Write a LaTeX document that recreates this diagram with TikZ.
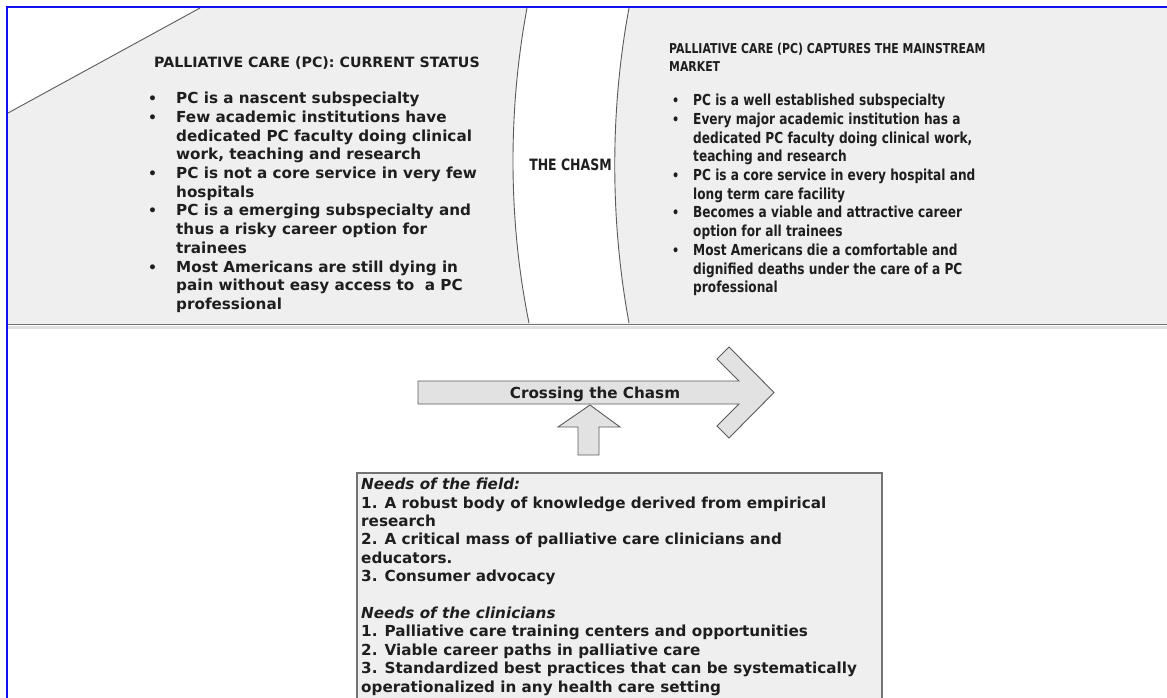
\documentclass[tikz,border=0pt]{standalone}
\usepackage{fontspec}
\setmainfont{DejaVu Sans}
\newfontfamily\condfont{DejaVu Sans}[FakeStretch=0.8]
\definecolor{bandfill}{HTML}{EFEFEF}
\definecolor{arrowfill}{HTML}{E2E2E2}
\definecolor{edgegray}{HTML}{5A5A5A}
\definecolor{framebl}{HTML}{1010F0}
\definecolor{txt}{HTML}{1E1E1E}
\newcommand{\lbul}{\llap{\makebox[28pt][l]{\raisebox{0pt}{\fontsize{14}{14}\selectfont\bfseries •}}}}
\newcommand{\rbul}{\llap{\makebox[21pt][l]{\raisebox{0pt}{\fontsize{14}{14}\selectfont\bfseries •}}}}
\tikzset{
  lefttext/.style={inner sep=0pt, align=left, text=txt, font=\fontsize{15.2}{18.7}\selectfont\bfseries},
  righttext/.style={inner sep=0pt, align=left, text=txt, font=\condfont\fontsize{15.2}{18.7}\selectfont\bfseries},
  boxtext/.style={inner sep=0pt, align=left, text=txt, font=\fontsize{15.2}{18.4}\selectfont\bfseries},
  bigarrow/.style={fill=arrowfill, draw=edgegray, line width=0.9pt, line join=miter},
  edgeline/.style={draw=edgegray, line width=0.9pt}
}
\begin{document}
\begin{tikzpicture}[x=1pt,y=-1pt]
\useasboundingbox (0,0) rectangle (1167,698);
\clip (0,0) rectangle (1167,698);
% top band
\fill[bandfill] (8,8) rectangle (1167,324);
\fill[white] (8,8) -- (200,8) -- (8,113) -- cycle;
\draw[edgeline] (200,8) -- (8,113);
% chasm
\fill[white] (527,8) .. controls (508,110) and (508,220) .. (529,323) -- (629,323) .. controls (610,220) and (610,110) .. (629,8) -- cycle;
\draw[edgeline] (527,8) .. controls (508,110) and (508,220) .. (529,323);
\draw[edgeline] (629,8) .. controls (610,110) and (610,220) .. (629,323);
% band bottom line
\draw[black!12, line width=3pt] (8,327.5) -- (1167,327.5);
\draw[black!55, line width=1.8pt] (8,324.5) -- (1167,324.5);
% frame
\draw[framebl, line width=2.2pt] (7,698) -- (7,7) -- (1167,7);

% left text
\node[lefttext, font=\fontsize{14.2}{16}\selectfont\bfseries, anchor=base west] (ltitle) at (154,68) {PALLIATIVE CARE (PC): CURRENT STATUS};
\node[lefttext, anchor=north west] (lbul) at (176,92) {%
\lbul PC is a nascent subspecialty\\
\lbul Few academic institutions have\\
dedicated PC faculty doing clinical\\
work, teaching and research\\
\lbul PC is not a core service in very few\\
hospitals\\
\lbul PC is a emerging subspecialty and\\
thus a risky career option for\\
trainees\\
\lbul Most Americans are still dying in\\
pain without easy access to\ \ a PC\\
professional};

% chasm label
\node[righttext, font=\condfont\fontsize{15.6}{18}\selectfont\bfseries, anchor=base] (chasm) at (570.5,170.5) {THE CHASM};

% right text
\node[righttext, font=\condfont\fontsize{13.6}{18}\selectfont\bfseries, anchor=north west] (rtitle) at (669,42.7) {PALLIATIVE CARE (PC) CAPTURES THE MAINSTREAM\\MARKET};
\node[righttext, anchor=north west] (rbul) at (693,94) {%
\rbul PC is a well established subspecialty\\
\rbul Every major academic institution has a\\
dedicated PC faculty doing clinical work,\\
teaching and research\\
\rbul PC is a core service in every hospital and\\
long term care facility\\
\rbul Becomes a viable and attractive career\\
option for all trainees\\
\rbul Most Americans die a comfortable and\\
dignified deaths under the care of a PC\\
professional};

% crossing arrow
\path[bigarrow] (418,381) -- (739,381) -- (717,359) -- (729,347) -- (774,392.5) -- (729,438) -- (717,426) -- (739,404) -- (418,404) -- cycle;
\node[lefttext, anchor=base] (cross) at (595,398) {Crossing the Chasm};
% up arrow
\path[bigarrow] (590,405) -- (620,427) -- (599,427) -- (599,455) -- (578,455) -- (578,427) -- (558,427) -- cycle;

% needs box
\draw[draw=black!55, line width=1.3pt, fill=bandfill] (357,473) rectangle (882,720);
\node[boxtext, anchor=north west] (needs) at (361,478) {%
\textit{Needs of the field:}\\
1. A robust body of knowledge derived from empirical\\
research\\
2. A critical mass of palliative care clinicians and\\
educators.\\
3. Consumer advocacy\\
\mbox{}\\
\textit{Needs of the clinicians}\\
1. Palliative care training centers and opportunities\\
2. Viable career paths in palliative care\\
3. Standardized best practices that can be systematically\\
operationalized in any health care setting};
\end{tikzpicture}
\end{document}
